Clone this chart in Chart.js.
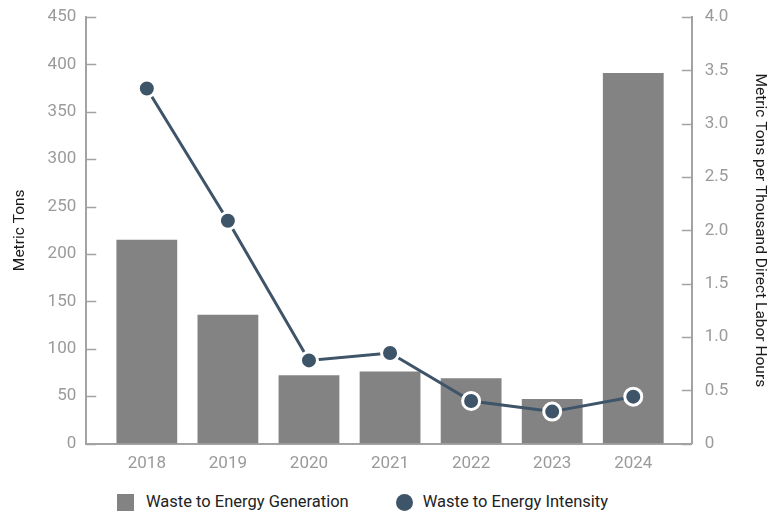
<!DOCTYPE html>
<html lang="en">
<head>
<meta charset="UTF-8">
<title>Waste to Energy</title>
<script src="https://cdn.jsdelivr.net/npm/chart.js"></script>
<style>
    html, body { margin: 0; padding: 0; background: #fff; }
    #wrap { position: relative; width: 769px; height: 514px; }
    #chart { display: block; }
    /* Легенда под графиком */
    #legend {
        position: absolute;
        left: 117px;
        top: 492px;
        display: flex;
        align-items: center;
        font-family: Roboto, sans-serif;
        font-size: 16.5px;
        color: #222;
        line-height: 20px;
    }
    .item { display: flex; align-items: center; }
    .item + .item { margin-left: 47px; }
    .box { width: 17px; height: 17px; margin-right: 12px; }
    .dot { width: 17px; height: 17px; border-radius: 50%; margin-right: 10px; }
</style>
</head>
<body>
<div id="wrap">
    <canvas id="chart" width="769" height="486"></canvas>
    <div id="legend"></div>
</div>
<script>
    // Данные по годам
    const years = ['2018', '2019', '2020', '2021', '2022', '2023', '2024'];
    const generation = [215, 136, 72, 76, 69, 47, 391];          // метрические тонны
    const intensity = [3.33, 2.09, 0.78, 0.85, 0.40, 0.30, 0.44]; // т на тыс. часов

    const barColor = '#838383';
    const lineColor = '#3e5468';
    const axisColor = '#a3a3a3';
    const tickColor = '#9a9a9a';
    const font = 'Roboto';

    // Короткие засечки внутрь области графика
    const innerTicks = {
        id: 'innerTicks',
        afterDraw(chart) {
            const ctx = chart.ctx;
            const area = chart.chartArea;
            ctx.save();
            ctx.strokeStyle = axisColor;
            ctx.lineWidth = 1.5;
            chart.scales.y.ticks.forEach(t => {
                const y = Math.round(chart.scales.y.getPixelForValue(t.value)) + 0.5;
                ctx.beginPath();
                ctx.moveTo(area.left, y);
                ctx.lineTo(area.left + 10, y);
                ctx.stroke();
            });
            chart.scales.y2.ticks.forEach(t => {
                const y = Math.round(chart.scales.y2.getPixelForValue(t.value)) + 0.5;
                ctx.beginPath();
                ctx.moveTo(area.right, y);
                ctx.lineTo(area.right - 10, y);
                ctx.stroke();
            });
            ctx.restore();
        }
    };

    // без лишних отступов сверху/снизу у вертикальных осей
    const noPad = s => { s.paddingTop = 0; s.paddingBottom = 0; };

    const chart = new Chart(document.getElementById('chart'), {
        data: {
            labels: years,
            datasets: [
                {
                    type: 'line',
                    label: 'Waste to Energy Intensity',
                    data: intensity,
                    yAxisID: 'y2',
                    borderColor: lineColor,
                    borderWidth: 3,
                    pointRadius: 8.5,
                    pointBorderWidth: 3,
                    pointBackgroundColor: lineColor,
                    pointBorderColor: '#ffffff',
                    tension: 0,
                    order: 0
                },
                {
                    type: 'bar',
                    label: 'Waste to Energy Generation',
                    data: generation,
                    yAxisID: 'y',
                    backgroundColor: barColor,
                    barPercentage: 0.75,
                    categoryPercentage: 1,
                    order: 1
                }
            ]
        },
        options: {
            responsive: false,
            animation: false,
            layout: { padding: { top: 17, left: 10, right: 0, bottom: 2 } },
            plugins: {
                tooltip: { enabled: false },
                legend: { display: false }
            },
            scales: {
                x: {
                    offset: false,
                    // шире поля по краям оси категорий
                    afterBuildTicks(s) {
                        s._startValue = -0.747;
                        s._valueRange = 7.469;
                    },
                    grid: { display: false, drawTicks: false },
                    border: { display: true, color: axisColor, width: 2 },
                    ticks: { color: tickColor, padding: 10, font: { family: font, size: 17 } }
                },
                y: {
                    position: 'left',
                    min: 0, max: 450,
                    afterFit: noPad,
                    ticks: { stepSize: 50, color: tickColor, padding: 10, font: { family: font, size: 17 } },
                    grid: { display: false, drawTicks: false },
                    border: { display: true, color: axisColor, width: 2 },
                    title: {
                        display: true,
                        text: 'Metric Tons',
                        color: '#1a1a1a',
                        font: { family: font, size: 15.5 },
                        padding: { top: 1, bottom: 8 }
                    }
                },
                y2: {
                    position: 'right',
                    min: 0, max: 4,
                    afterFit: noPad,
                    ticks: {
                        stepSize: 0.5, color: tickColor, padding: 13,
                        font: { family: font, size: 17 },
                        callback: v => v === 0 ? '0' : v.toFixed(1)
                    },
                    grid: { display: false, drawTicks: false },
                    border: { display: true, color: axisColor, width: 2 },
                    title: {
                        display: true,
                        text: 'Metric Tons per Thousand Direct Labor Hours',
                        color: '#1a1a1a',
                        font: { family: font, size: 15.5 },
                        padding: { top: 0, bottom: 9 }
                    }
                }
            }
        },
        plugins: [innerTicks]
    });

    // Легенда: столбцы — квадрат, линия — круг
    const legend = document.getElementById('legend');
    [1, 0].forEach(i => {
        const ds = chart.data.datasets[i];
        const item = document.createElement('div');
        item.className = 'item';
        const mark = document.createElement('span');
        mark.className = ds.type === 'bar' ? 'box' : 'dot';
        mark.style.background = ds.type === 'bar' ? ds.backgroundColor : ds.borderColor;
        const label = document.createElement('span');
        label.textContent = ds.label;
        item.appendChild(mark);
        item.appendChild(label);
        legend.appendChild(item);
    });
</script>
</body>
</html>
